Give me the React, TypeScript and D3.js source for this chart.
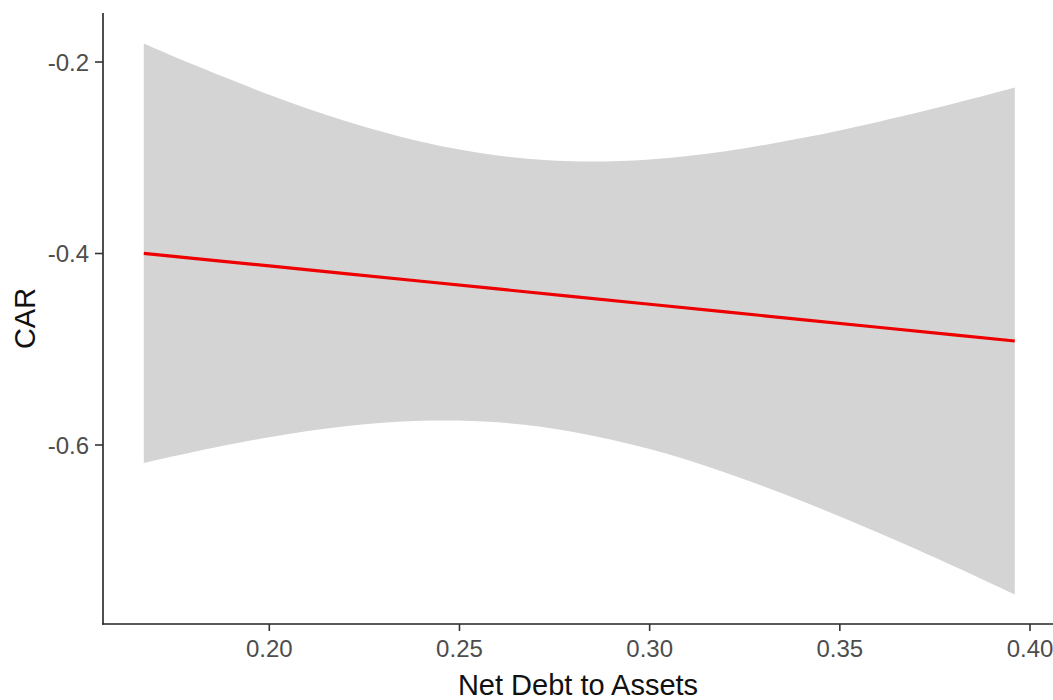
import React from "react";
import * as d3 from "d3";

// Values
const xValues = [0.167, 0.18, 0.2, 0.22, 0.24, 0.26, 0.28, 0.3, 0.32, 0.34, 0.36, 0.38, 0.396];
const fitValues = [-0.3998, -0.405, -0.413, -0.421, -0.429, -0.437, -0.445, -0.453, -0.461, -0.469, -0.477, -0.485, -0.4914];
const upperValues = [-0.1807, -0.2027, -0.2342, -0.2616, -0.2833, -0.2977, -0.3037, -0.3017, -0.2931, -0.2795, -0.2626, -0.2434, -0.2267];
const lowerValues = [-0.6189, -0.6073, -0.5918, -0.5804, -0.5747, -0.5763, -0.5863, -0.6043, -0.6289, -0.6585, -0.6914, -0.7266, -0.7561];

const xTicks = [0.2, 0.25, 0.3, 0.35, 0.4];
const yTicks = [-0.2, -0.4, -0.6];

const xTitle = "Net Debt to Assets";
const yTitle = "CAR";

export default function App() {
  const W = 1053;
  const H = 700;
  const panelLeft = 103;
  const panelRight = 1053;
  const panelTop = 13;
  const panelBottom = 624;

  const x = d3.scaleLinear().domain([0.2, 0.4]).range([269.3, 1030]);
  const y = d3.scaleLinear().domain([-0.6, -0.2]).range([445, 62]);

  const rows = xValues.map((xv, i) => ({
    x: xv,
    fit: fitValues[i],
    lo: lowerValues[i],
    hi: upperValues[i],
  }));

  const area = d3
    .area<any>()
    .x((d) => x(d.x))
    .y0((d) => y(d.lo))
    .y1((d) => y(d.hi))
    .curve(d3.curveNatural);

  const line = d3
    .line<any>()
    .x((d) => x(d.x))
    .y((d) => y(d.fit))
    .curve(d3.curveLinear);

  const font = "'Liberation Sans', Arial, sans-serif";

  return (
    <svg
      width={W}
      height={H}
      style={{ position: "fixed", left: 0, top: 0, background: "#fff" }}
      fontFamily={font}
    >
      <rect x={0} y={0} width={W} height={H} fill="#fff" />
      <path d={area(rows) || ""} fill="#d4d4d4" stroke="none" />
      <path d={line(rows) || ""} fill="none" stroke="#ee0000" strokeWidth={3.2} />

      {/* y axis */}
      <line x1={panelLeft} x2={panelLeft} y1={panelTop} y2={panelBottom + 0.8} stroke="#222" strokeWidth={1.6} />
      {yTicks.map((t) => (
        <g key={t}>
          <line x1={panelLeft - 8} x2={panelLeft} y1={y(t)} y2={y(t)} stroke="#333" strokeWidth={1.6} />
          <text
            x={panelLeft - 14}
            y={y(t)}
            dy="0.36em"
            textAnchor="end"
            fontSize={24}
            fill="#4d4d4d"
          >
            {t.toFixed(1)}
          </text>
        </g>
      ))}

      {/* x axis */}
      <line x1={panelLeft - 0.8} x2={panelRight} y1={panelBottom} y2={panelBottom} stroke="#222" strokeWidth={1.6} />
      {xTicks.map((t) => (
        <g key={t}>
          <line x1={x(t)} x2={x(t)} y1={panelBottom} y2={panelBottom + 7} stroke="#333" strokeWidth={1.6} />
          <text x={x(t)} y={657} textAnchor="middle" fontSize={24} fill="#4d4d4d">
            {t.toFixed(2)}
          </text>
        </g>
      ))}

      <text x={(panelLeft + panelRight) / 2} y={695} textAnchor="middle" fontSize={29} fill="#111">
        {xTitle}
      </text>
      <text
        transform={`translate(35, ${(panelTop + panelBottom) / 2}) rotate(-90)`}
        textAnchor="middle"
        fontSize={29}
        fill="#111"
      >
        {yTitle}
      </text>
    </svg>
  );
}
